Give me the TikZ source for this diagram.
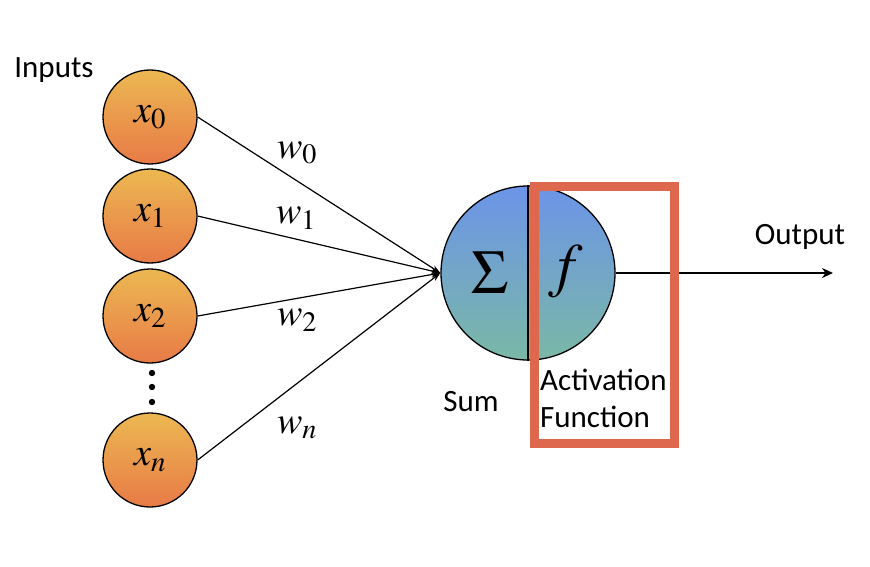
\documentclass[tikz,border=0pt]{standalone}
\usepackage{mathptmx}
\usepackage[no-math]{fontspec}
\setmainfont{Carlito}
\usetikzlibrary{arrows.meta}
\definecolor{inputtop}{RGB}{236,184,82}
\definecolor{inputbottom}{RGB}{232,122,70}
\definecolor{sumtop}{RGB}{108,148,232}
\definecolor{sumbottom}{RGB}{122,184,166}
\definecolor{boxred}{RGB}{221,104,78}
\newcommand{\drawarrow}{\draw[line width=1.2pt, -{Stealth[length=9pt, width=6pt]}]}

\begin{document}
\begin{tikzpicture}[x=1pt, y=-1pt,
    input/.style={circle, draw, line width=1.3pt, minimum size=94pt, inner sep=0pt,
        top color=inputtop, bottom color=inputbottom, font=\fontsize{39}{41}\selectfont},
    weight/.style={font=\fontsize{38}{40}\selectfont},
    textlabel/.style={font=\fontsize{31}{37}\selectfont, inner sep=0pt}]
    \useasboundingbox (0,0) rectangle (870,567);

    % Draw inputs
    \node[input] (x0) at (150,117) {$x_0$};
    \node[input] (x1) at (150,216) {$x_1$};
    \node[input] (x2) at (150,316) {$x_2$};
    \node[input] (xn) at (150,460) {$x_n$};
    \foreach \y in {373,387,402} {
        \fill (152,\y) circle (3.2pt);
    }

    % Draw neuron
    \node[circle, draw, line width=1.3pt, minimum size=174pt, inner sep=0pt,
        top color=sumtop, bottom color=sumbottom] (sum) at (528,273) {};
    \draw[line width=1.3pt] (sum.north) -- (sum.south);
    \node[font=\fontsize{62}{64}\selectfont] (sigma) at (490,273) {$\Sigma$};
    \node[font=\fontsize{60}{62}\selectfont] (act) at (566,272) {$f$};

    % Draw weights
    \drawarrow (x0.east) -- (sum.west);
    \drawarrow (x1.east) -- (sum.west);
    \drawarrow (x2.east) -- (sum.west);
    \drawarrow (xn.east) -- (sum.west);
    \node[weight] (w0) at (297,153) {$w_0$};
    \node[weight] (w1) at (296,218) {$w_1$};
    \node[weight] (w2) at (297,320) {$w_2$};
    \node[weight] (wn) at (297,428) {$w_n$};

    % Draw output
    \coordinate (out) at (833,273);
    \draw[line width=1.7pt, -{Stealth[length=11pt, width=10pt]}] (sum.east) -- (out);
    \draw[boxred, line width=9pt] (534.5,186.5) rectangle (674.5,443.5);

    \node[textlabel] (inputs) at (54,70) {Inputs};
    \node[textlabel] (output) at (800,237) {Output};
    \node[textlabel] (sumlabel) at (471,402) {Sum};
    \node[textlabel, anchor=north west, align=left] (actlabel) at (540,369) {Activation\\Function};
\end{tikzpicture}
\end{document}
